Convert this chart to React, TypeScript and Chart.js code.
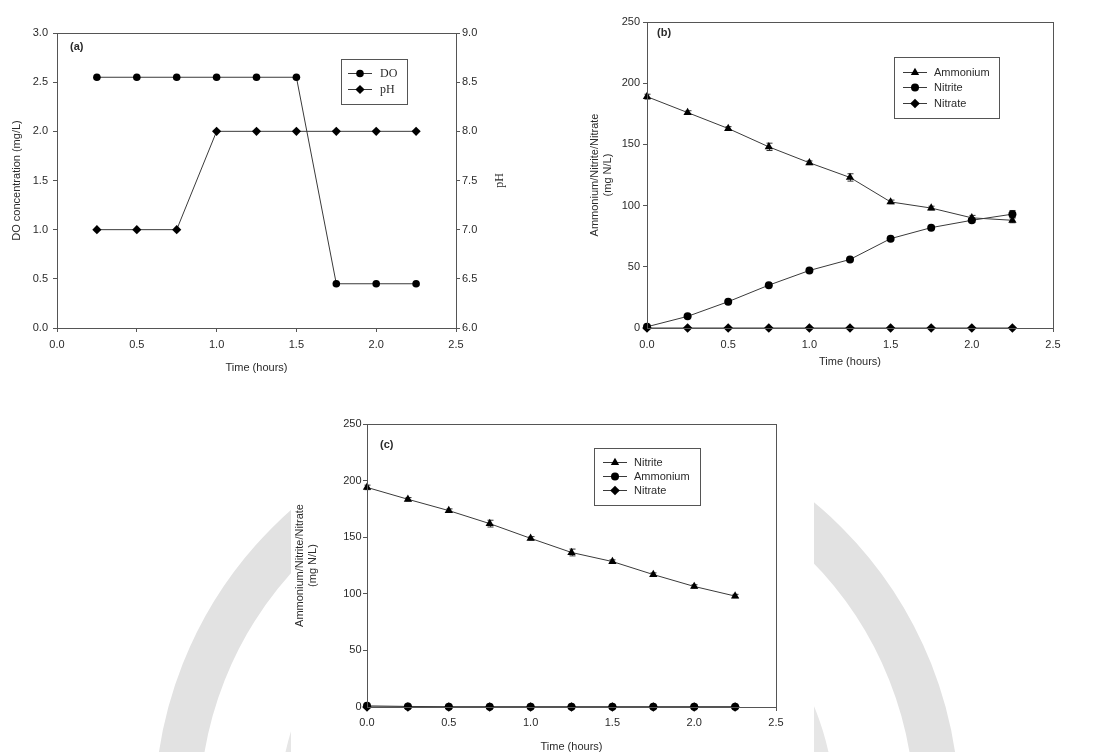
import React, { useEffect, useRef } from "react";
import { Chart, registerables } from "chart.js";

Chart.register(...registerables);

const SANS = "'Liberation Sans', Arial, Helvetica, sans-serif";
const SERIF = "'Liberation Serif', 'Times New Roman', serif";

// ---------- data ----------
const timeA = [0.25, 0.5, 0.75, 1.0, 1.25, 1.5, 1.75, 2.0, 2.25];
const doConc = [2.55, 2.55, 2.55, 2.55, 2.55, 2.55, 0.45, 0.45, 0.45];
const phValues = [7, 7, 7, 8, 8, 8, 8, 8, 8];

const timeBC = [0, 0.25, 0.5, 0.75, 1.0, 1.25, 1.5, 1.75, 2.0, 2.25];
const ammoniumB = [189, 176, 163, 148, 135, 123, 103, 98, 90, 88];
const ammoniumBErr = [2, 1.5, 1.5, 3, 1.5, 3, 1.5, 1.5, 2, 2];
const nitriteB = [1, 9.5, 21.5, 35, 47, 56, 73, 82, 88, 93];
const nitriteBErr = [0, 0, 0, 0, 0, 0, 0, 0, 1.5, 3];
const nitrateB = [0, 0, 0, 0, 0, 0, 0, 0, 0, 0];

const nitriteC = [194, 183.5, 173.5, 162, 149, 136.5, 128.5, 117, 106.5, 98];
const nitriteCErr = [2, 1.5, 1.5, 3, 1.5, 3, 1.5, 1.5, 1.5, 1.5];
const ammoniumC = [1, 0.5, 0.2, 0.2, 0.2, 0.2, 0.2, 0.2, 0.2, 0.2];
const nitrateC = [0, 0, 0, 0, 0, 0, 0, 0, 0, 0];

const xTickLabels = ["0.0", "0.5", "1.0", "1.5", "2.0", "2.5"];
const labelsA = ["(a)", "DO concentration (mg/L)", "pH", "Time (hours)"];
const labelsBC = ["Ammonium/Nitrite/Nitrate", "(mg N/L)"];

// ---------- helpers ----------
const toXY = (xs: number[], ys: number[]) => xs.map((x, i) => ({ x, y: ys[i] }));

const AXIS = "#555";
const LINE = "#3a3a3a";
const TEXT = "#2a2a2a";

function drawMarker(ctx: CanvasRenderingContext2D, style: string, x: number, y: number, r: number) {
  ctx.beginPath();
  if (style === "rectRot") {
    ctx.moveTo(x - r, y);
    ctx.lineTo(x, y - r);
    ctx.lineTo(x + r, y);
    ctx.lineTo(x, y + r);
    ctx.closePath();
  } else if (style === "triangle") {
    let rad = 0;
    const step = (2 * Math.PI) / 3;
    ctx.moveTo(x + Math.sin(rad) * r, y - Math.cos(rad) * r);
    rad += step;
    ctx.lineTo(x + Math.sin(rad) * r, y - Math.cos(rad) * r);
    rad += step;
    ctx.lineTo(x + Math.sin(rad) * r, y - Math.cos(rad) * r);
    ctx.closePath();
  } else {
    ctx.arc(x, y, r, 0, Math.PI * 2);
  }
  ctx.fillStyle = "#000";
  ctx.fill();
}

type LegendCfg = {
  box: [number, number, number, number];
  line: [number, number];
  textX: number;
  rows: number[];
  font: string;
};

type DecorCfg = {
  tag: string;
  tagPos: [number, number];
  legend: LegendCfg;
  rightTitle?: { text: string; x: number; font: string };
};

function decorPlugin(cfg: DecorCfg) {
  return {
    id: "decor",
    beforeDatasetsDraw(chart: any) {
      const ctx = chart.ctx as CanvasRenderingContext2D;
      ctx.save();
      ctx.strokeStyle = "#333";
      ctx.lineWidth = 1;
      chart.data.datasets.forEach((ds: any, i: number) => {
        if (!ds.errors) return;
        const meta = chart.getDatasetMeta(i);
        const yScale = chart.scales[meta.yAxisID];
        meta.data.forEach((pt: any, j: number) => {
          const e = ds.errors[j];
          if (!e) return;
          const v = ds.data[j].y;
          const y1 = yScale.getPixelForValue(v + e);
          const y2 = yScale.getPixelForValue(v - e);
          const x = Math.round(pt.x) + 0.5;
          ctx.beginPath();
          ctx.moveTo(x, y1);
          ctx.lineTo(x, y2);
          ctx.moveTo(x - 3, y1);
          ctx.lineTo(x + 3, y1);
          ctx.moveTo(x - 3, y2);
          ctx.lineTo(x + 3, y2);
          ctx.stroke();
        });
      });
      ctx.restore();
    },
    afterDraw(chart: any) {
      const ctx = chart.ctx as CanvasRenderingContext2D;
      const a = chart.chartArea;
      ctx.save();
      // frame
      ctx.strokeStyle = AXIS;
      ctx.lineWidth = 1;
      ctx.strokeRect(Math.round(a.left) + 0.5, Math.round(a.top) + 0.5, Math.round(a.right - a.left), Math.round(a.bottom - a.top));
      // tag
      ctx.fillStyle = TEXT;
      ctx.font = `bold 11px ${SANS}`;
      ctx.textAlign = "left";
      ctx.textBaseline = "middle";
      ctx.fillText(cfg.tag, cfg.tagPos[0], cfg.tagPos[1]);
      // right title
      if (cfg.rightTitle) {
        ctx.save();
        ctx.translate(cfg.rightTitle.x, (a.top + a.bottom) / 2);
        ctx.rotate(-Math.PI / 2);
        ctx.font = cfg.rightTitle.font;
        ctx.textAlign = "center";
        ctx.textBaseline = "middle";
        ctx.fillText(cfg.rightTitle.text, 0, 0);
        ctx.restore();
      }
      // legend
      const L = cfg.legend;
      ctx.fillStyle = "#fff";
      ctx.fillRect(L.box[0], L.box[1], L.box[2], L.box[3]);
      ctx.strokeStyle = AXIS;
      ctx.strokeRect(L.box[0] + 0.5, L.box[1] + 0.5, L.box[2], L.box[3]);
      chart.data.datasets.forEach((ds: any, i: number) => {
        const y = L.rows[i];
        ctx.strokeStyle = LINE;
        ctx.beginPath();
        ctx.moveTo(L.line[0], y + 0.5);
        ctx.lineTo(L.line[1], y + 0.5);
        ctx.stroke();
        drawMarker(ctx, ds.pointStyle, (L.line[0] + L.line[1]) / 2, y + 0.5, ds.pointRadius);
        ctx.fillStyle = TEXT;
        ctx.font = L.font;
        ctx.textAlign = "left";
        ctx.textBaseline = "middle";
        ctx.fillText(ds.label, L.textX, y + 1);
      });
      ctx.restore();
    },
  };
}

type Area = { left: number; top: number; right: number; bottom: number };

function series(label: string, xs: number[], ys: number[], style: string, r: number, errors?: number[], yAxisID = "y") {
  return {
    label,
    data: toXY(xs, ys),
    yAxisID,
    errors,
    borderColor: LINE,
    borderWidth: 1,
    pointStyle: style,
    pointRadius: r,
    pointHoverRadius: r,
    pointBackgroundColor: "#000",
    pointBorderColor: "#000",
    pointBorderWidth: 0,
    tension: 0,
    fill: false,
    clip: false,
  } as any;
}

function tickFont() {
  return { family: SANS, size: 11 };
}

function xScaleCfg(height: number, titlePadBottom: number, labelPad: number) {
  return {
    type: "linear",
    position: "bottom",
    min: 0,
    max: 2.5,
    afterBuildTicks: (scale: any) => {
      scale.ticks = xTickLabels.map((t) => ({ value: parseFloat(t) }));
    },
    ticks: {
      color: TEXT,
      font: tickFont(),
      padding: labelPad,
      maxRotation: 0,
      autoSkip: false,
      callback: (v: number) => xTickLabels.find((t) => parseFloat(t) === v) ?? "",
    },
    grid: { display: true, drawOnChartArea: false, drawTicks: true, tickLength: 4, color: AXIS },
    border: { display: true, color: AXIS, width: 1 },
    title: {
      display: true,
      text: labelsA[3],
      color: TEXT,
      font: { family: SANS, size: 11 },
      padding: { top: 0, bottom: titlePadBottom },
    },
    afterFit: (scale: any) => {
      scale.height = height;
    },
  };
}

function yScaleCfg(opts: {
  min: number;
  max: number;
  step: number;
  decimals: number;
  width: number;
  position: "left" | "right";
  labelPad: number;
  title?: string | string[];
  titlePadTop?: number;
}) {
  return {
    type: "linear",
    position: opts.position,
    min: opts.min,
    max: opts.max,
    ticks: {
      stepSize: opts.step,
      color: TEXT,
      font: tickFont(),
      padding: opts.labelPad,
      callback: (v: number) => v.toFixed(opts.decimals),
    },
    grid: { display: true, drawOnChartArea: false, drawTicks: true, tickLength: 4, color: AXIS },
    border: { display: true, color: AXIS, width: 1 },
    title: opts.title
      ? {
          display: true,
          text: opts.title,
          color: TEXT,
          font: { family: SANS, size: 11 },
          padding: { top: opts.titlePadTop ?? 0, bottom: 0 },
        }
      : { display: false },
    afterFit: (scale: any) => {
      scale.width = opts.width;
    },
  };
}

function useChart(ref: React.RefObject<HTMLCanvasElement>, build: () => any) {
  useEffect(() => {
    if (!ref.current) return;
    const chart = new Chart(ref.current, build());
    return () => chart.destroy();
  }, []);
}

const baseOptions = (padding: any) => ({
  responsive: false,
  maintainAspectRatio: false,
  animation: false,
  events: [],
  layout: { padding },
  plugins: { legend: { display: false }, tooltip: { enabled: false } },
});

function PanelA() {
  const ref = useRef<HTMLCanvasElement>(null);
  const W = 537, H = 382;
  const area: Area = { left: 57, top: 33, right: 456, bottom: 328 };
  useChart(ref, () => ({
    type: "line",
    data: {
      datasets: [
        series("DO", timeA, doConc, "circle", 3.8),
        series("pH", timeA, phValues, "rectRot", 4.6, undefined, "y2"),
      ],
    },
    options: {
      ...baseOptions({ top: area.top, left: 0, right: 0, bottom: 0 }),
      scales: {
        x: xScaleCfg(H - area.bottom, 7.4, 6),
        y: yScaleCfg({ min: 0, max: 3, step: 0.5, decimals: 1, width: area.left, position: "left", labelPad: 5, title: labelsA[1], titlePadTop: 10.4 }),
        y2: yScaleCfg({ min: 6, max: 9, step: 0.5, decimals: 1, width: W - area.right, position: "right", labelPad: 2 }),
      },
    },
    plugins: [
      decorPlugin({
        tag: labelsA[0],
        tagPos: [70, 47],
        legend: { box: [341, 59, 66, 45], line: [348, 372], textX: 380, rows: [73, 89], font: `12px ${SERIF}` },
        rightTitle: { text: labelsA[2], x: 500, font: `12px ${SERIF}` },
      }),
    ],
  }));
  return <canvas ref={ref} width={W} height={H} style={{ position: "absolute", left: 0, top: 0, background: "#fff" }} />;
}

function PanelB() {
  const ref = useRef<HTMLCanvasElement>(null);
  const W = 525, H = 382;
  const area: Area = { left: 79, top: 22, right: 485, bottom: 328 };
  useChart(ref, () => ({
    type: "line",
    data: {
      datasets: [
        series("Ammonium", timeBC, ammoniumB, "triangle", 4.8, ammoniumBErr),
        series("Nitrite", timeBC, nitriteB, "circle", 4, nitriteBErr),
        series("Nitrate", timeBC, nitrateB, "rectRot", 4.8),
      ],
    },
    options: {
      ...baseOptions({ top: area.top, left: 0, right: W - area.right, bottom: 0 }),
      scales: {
        x: xScaleCfg(H - area.bottom, 13.4, 6),
        y: yScaleCfg({ min: 0, max: 250, step: 50, decimals: 0, width: area.left, position: "left", labelPad: 3, title: labelsBC, titlePadTop: 20.4 }),
      },
    },
    plugins: [
      decorPlugin({
        tag: "(b)",
        tagPos: [89, 33],
        legend: { box: [326, 57, 105, 61], line: [335, 359], textX: 366, rows: [72, 87, 103], font: `11px ${SANS}` },
      }),
    ],
  }));
  return <canvas ref={ref} width={W} height={H} style={{ position: "absolute", left: 568, top: 0, background: "#fff" }} />;
}

function PanelC() {
  const ref = useRef<HTMLCanvasElement>(null);
  const W = 523, H = 370;
  const area: Area = { left: 76, top: 33, right: 485, bottom: 316 };
  useChart(ref, () => ({
    type: "line",
    data: {
      datasets: [
        series("Nitrite", timeBC, nitriteC, "triangle", 4.8, nitriteCErr),
        series("Ammonium", timeBC, ammoniumC, "circle", 4),
        series("Nitrate", timeBC, nitrateC, "rectRot", 4.8),
      ],
    },
    options: {
      ...baseOptions({ top: area.top, left: 0, right: W - area.right, bottom: 0 }),
      scales: {
        x: xScaleCfg(H - area.bottom, 7.4, 5.5),
        y: yScaleCfg({ min: 0, max: 250, step: 50, decimals: 0, width: area.left, position: "left", labelPad: 1.5, title: labelsBC, titlePadTop: 2.4 }),
      },
    },
    plugins: [
      decorPlugin({
        tag: "(c)",
        tagPos: [89, 54],
        legend: { box: [303, 57, 106, 57], line: [312, 336], textX: 343, rows: [71, 85, 99], font: `11px ${SANS}` },
      }),
    ],
  }));
  return <canvas ref={ref} width={W} height={H} style={{ position: "absolute", left: 291, top: 391, background: "#fff" }} />;
}

export default function App() {
  return (
    <div style={{ position: "absolute", left: 0, top: 0, width: 1093, height: 752, overflow: "hidden", background: "#fff" }}>
      <svg width={1093} height={752} style={{ position: "absolute", left: 0, top: 0 }}>
        <circle cx={557} cy={812} r={380} fill="none" stroke="#e2e2e2" strokeWidth={45} />
        <circle cx={557} cy={812} r={268} fill="none" stroke="#e6e6e6" strokeWidth={20} />
      </svg>
      <PanelA />
      <PanelB />
      <PanelC />
    </div>
  );
}
